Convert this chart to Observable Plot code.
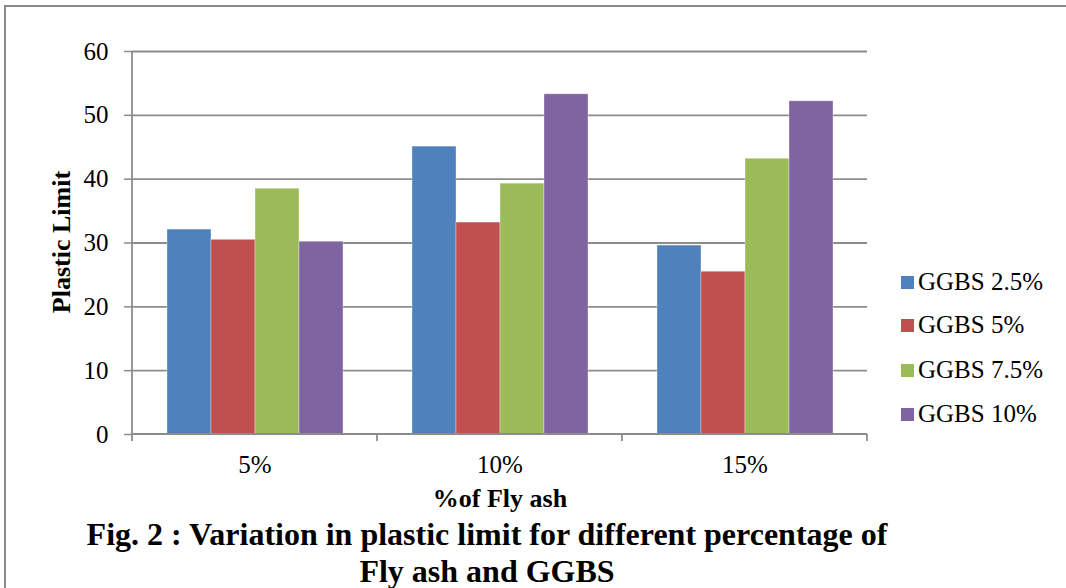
<!DOCTYPE html>
<html>
<head>
<meta charset="utf-8">
<script src="https://cdn.jsdelivr.net/npm/d3@7"></script>
<script src="https://cdn.jsdelivr.net/npm/@observablehq/plot@0.6"></script>
<style>
  html, body { margin: 0; padding: 0; background: #fff; }
  #wrap { position: relative; width: 1066px; height: 588px; overflow: hidden; font-family: "Liberation Serif", "Times New Roman", serif; }
  #frame { position: absolute; left: 4px; top: 5px; width: 1062px; height: 600px; border-left: 2px solid #8c8c8c; border-top: 2px solid #8c8c8c; box-sizing: border-box; }
  #chart { position: absolute; left: 0; top: 0; }
  .ylab { position: absolute; left: 62px; top: 242px; transform: translate(-50%, -50%) rotate(-90deg); font-weight: bold; font-size: 26px; white-space: nowrap; }
  .xlab { position: absolute; left: 500px; top: 499px; transform: translate(-50%, -50%); font-weight: bold; font-size: 26px; white-space: nowrap; }
  .cap { position: absolute; left: 487px; transform: translate(-50%, -50%); font-weight: bold; font-size: 32px; white-space: nowrap; }
  .leg { position: absolute; left: 901px; font-size: 25px; white-space: nowrap; transform: translateY(-50%); display: flex; align-items: center; }
  .leg span.sw { display: inline-block; width: 13px; height: 13px; margin-right: 4px; }
</style>
</head>
<body>
<div id="wrap">
  <div id="frame"></div>
  <div id="chart"></div>
</div>
<script>
const categories = ["5%", "10%", "15%"];
const series = ["GGBS 2.5%", "GGBS 5%", "GGBS 7.5%", "GGBS 10%"];
const ggbs25 = [32.1, 45.1, 29.6];
const ggbs5 = [30.5, 33.2, 25.5];
const ggbs75 = [38.5, 39.3, 43.2];
const ggbs10 = [30.2, 53.3, 52.2];
const yTicks = [0, 10, 20, 30, 40, 50, 60];
const colors = ["#4F81BD", "#C0504D", "#9BBB59", "#8064A2"];
const yLabel = "Plastic Limit";
const xLabel = "%of Fly ash";
const captionLines = ["Fig. 2 : Variation in plastic limit for different percentage of", "Fly ash and GGBS"];

const seriesValues = [ggbs25, ggbs5, ggbs75, ggbs10];
const rows = [];
categories.forEach((c, ci) => series.forEach((s, si) => rows.push({cat: c, series: s, value: seriesValues[si][ci]})));

const W = 1066, H = 500;
const plot = Plot.plot({
  width: W,
  height: H,
  marginTop: 51,
  marginBottom: 66,
  marginLeft: 131,
  marginRight: 198,
  style: {color: "#000", background: "transparent"},
  facet: {data: rows, x: "cat"},
  fx: {domain: categories, padding: 0, tickSize: 0, tickPadding: 21, label: null},
  x: {domain: series, paddingInner: 0, paddingOuter: 0.75, axis: null},
  y: {domain: [0, 60], ticks: yTicks, tickSize: 8, tickPadding: 16, label: null},
  color: {domain: series, range: colors},
  marks: [
    Plot.ruleY(yTicks.filter(d => d > 0), {stroke: "#8c8c8c", strokeWidth: 1.8}),
    Plot.barY(rows, {x: "series", y: "value", fill: "series", stroke: "#ffffff", strokeOpacity: 0.35, strokeWidth: 1})
  ]
});
document.getElementById("chart").appendChild(plot);

const svg = d3.select(plot);
svg.selectAll("text")
   .style("font-family", "'Liberation Serif', 'Times New Roman', serif", "important")
   .style("font-size", "25px", "important")
   .style("fill", "#000");
svg.selectAll('g[aria-label^="y-axis"] line, g[aria-label^="y-axis"] path')
   .style("stroke", "#8c8c8c").style("stroke-width", "1.5");

// Excel-style axis lines and boundary ticks, derived from Plot's scales
const fx = plot.scale("fx"), y = plot.scale("y");
const x0 = fx.apply(categories[0]);
const x1 = fx.apply(categories[categories.length - 1]) + fx.bandwidth;
const g = svg.append("g").attr("stroke", "#8c8c8c").attr("stroke-width", 1.8);
g.append("line").attr("x1", x0).attr("x2", x0).attr("y1", y.apply(0)).attr("y2", y.apply(60));
g.append("line").attr("x1", x0).attr("x2", x1).attr("y1", y.apply(0)).attr("y2", y.apply(0));
const bounds = categories.map(c => fx.apply(c)).concat([x1]);
bounds.forEach(b => g.append("line").attr("x1", b).attr("x2", b).attr("y1", y.apply(0)).attr("y2", y.apply(0) + 7));

const wrap = document.getElementById("wrap");
function addDiv(cls, text, top) {
  const d = document.createElement("div");
  d.className = cls;
  d.textContent = text;
  if (top != null) d.style.top = top + "px";
  wrap.appendChild(d);
  return d;
}
addDiv("ylab", yLabel);
addDiv("xlab", xLabel);
addDiv("cap", captionLines[0], 534);
addDiv("cap", captionLines[1], 571);
const legTops = [282, 325, 370, 414];
series.forEach((s, i) => {
  const d = document.createElement("div");
  d.className = "leg";
  d.style.top = legTops[i] + "px";
  const sw = document.createElement("span");
  sw.className = "sw";
  sw.style.background = colors[i];
  d.appendChild(sw);
  d.appendChild(document.createTextNode(s));
  wrap.appendChild(d);
});
// force style/layout resolution of the svg texts before the snapshot
Array.from(plot.querySelectorAll("text")).forEach(t => { getComputedStyle(t).fontFamily; t.getBoundingClientRect(); });
</script>
</body>
</html>
